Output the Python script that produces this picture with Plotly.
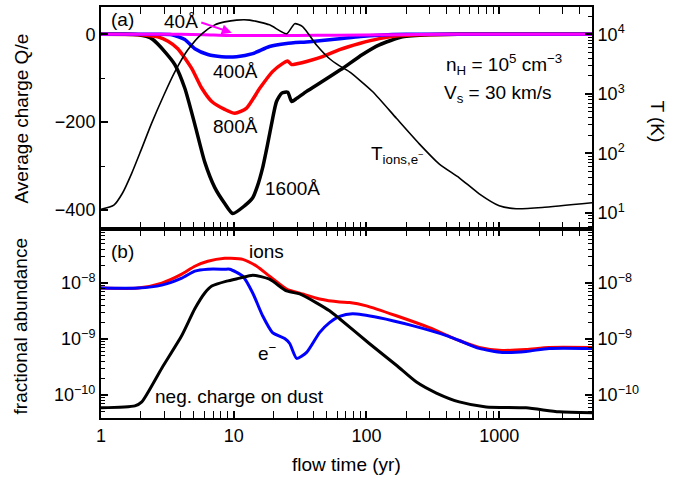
import numpy as np
import plotly.graph_objects as go

# ---------------- Panel (a): average grain charge Q/e ----------------
t_1600 = [1, 1.5, 1.9, 2.2, 2.46, 3.03, 3.6, 4.28, 5.09, 6.05, 7.2, 8.55, 9.83, 12.1, 13.9, 15.1, 16.5, 18.0,
          19.6, 21.0, 23.0, 25.5, 27.3, 29.8, 35.4, 46.7, 62.7, 66, 93.3, 125, 187, 298, 500, 5000]
q_1600 = [0, 0, -1, -5, -12, -40, -69, -123, -205, -291, -349, -385, -408, -390, -372, -345, -304, -250,
          -193, -153, -134, -132, -153, -146, -130, -107, -82, -78, -46, -24, -6, -1, 0, 0]

t_800 = [1, 2.0, 2.68, 3.2, 3.79, 4.83, 5.75, 6.83, 8.55, 10.2, 12.5, 15.7, 19.6, 23, 25.5, 27.3, 30, 35.4,
         46.7, 62.7, 88.5, 125, 178, 250, 500, 5000]
q_800 = [0, -1, -6, -16, -33, -78, -123, -153, -171, -180, -168, -123, -85, -68, -61, -69, -67, -62,
         -51, -35, -21, -10, -3, -1, 0, 0]

t_400 = [1, 2.5, 3.42, 4.28, 5.09, 6.38, 8.12, 10.5, 13.9, 18.6, 25, 37.3, 62.7, 90, 125, 200, 5000]
q_400 = [0, 0, -1, -12, -33, -46, -51, -51, -44, -28, -21, -17, -10, -5, -2, 0, 0]

t_40 = [1, 4, 6, 9, 15, 30, 60, 150, 400, 5000]
q_40 = [0, 0, -1, -3, -3, -3, -2, -1, 0, 0]

# Temperature of ions and electrons (K), right axis of panel (a)
t_T = [1, 1.25, 1.45, 1.7, 2.0, 2.4, 2.99, 3.6, 4.51, 5.75, 7.2, 8.55, 10.5, 13.2, 18.6, 25, 28.8,
       33, 42, 52.7, 62.7, 74.5, 111, 168, 250, 354, 500, 707, 1000, 1342, 2105, 5000]
logT = [1.06, 1.13, 1.33, 1.66, 2.05, 2.50, 2.99, 3.37, 3.74, 4.01, 4.16, 4.21, 4.24, 4.24, 4.16, 4.01, 4.18,
        4.13, 3.82, 3.59, 3.47, 3.37, 3.04, 2.59, 2.16, 1.82, 1.59, 1.32, 1.12, 1.07, 1.09, 1.17]
T_K = [10 ** v for v in logT]

# ---------------- Panel (b): fractional abundances ----------------
t_ions = [1, 1.9, 2.87, 4.06, 5.09, 6.38, 8.55, 9.33, 11.7, 14.9, 18.6, 25, 33, 44.3, 62.7, 74.5, 100, 168,
          298, 500, 707, 1054, 1596, 2378, 5000]
log_ions = [-8.094, -8.094, -8.005, -7.846, -7.705, -7.617, -7.564, -7.564, -7.582, -7.705, -7.882, -8.111,
            -8.199, -8.288, -8.341, -8.35, -8.411, -8.588, -8.800, -9.029, -9.153, -9.206, -9.188, -9.153, -9.153]
x_ions = [10 ** v for v in log_ions]

t_el = [1, 1.9, 2.87, 4.06, 5.09, 6.38, 8.55, 9.33, 11.7, 13.9, 16.5, 19.6, 24.2, 26.4, 29.8, 35.4, 44.3,
        52.7, 62.7, 78.5, 125, 222, 400, 500, 707, 1054, 1596, 2378, 5000]
log_el = [-8.094, -8.094, -8.041, -7.917, -7.793, -7.758, -7.758, -7.758, -7.882, -8.182, -8.588, -8.888,
          -8.994, -9.082, -9.347, -9.241, -8.888, -8.711, -8.60, -8.552, -8.623, -8.764, -8.941, -9.029,
          -9.170, -9.241, -9.223, -9.170, -9.170]
x_el = [10 ** v for v in log_el]

t_dust = [1, 1.8, 2.03, 2.87, 4.06, 5.09, 6.05, 6.83, 8.85, 11.1, 13.9, 18.6, 25, 31.4, 42, 52.7, 62.7,
          105, 168, 238, 336, 500, 798, 1596, 2826, 5000]
log_dust = [-10.229, -10.194, -10.123, -9.523, -8.941, -8.464, -8.182, -8.058, -7.970, -7.917, -7.864, -7.935,
            -8.146, -8.199, -8.358, -8.500, -8.641, -9.082, -9.470, -9.770, -9.965, -10.123, -10.212, -10.229,
            -10.300, -10.317]
x_dust = [10 ** v for v in log_dust]

# tick labels
xt_vals = [1, 10, 100, 1000]
xt_text = ["1", "10", "100", "1000"]
q_vals = [-400, -200, 0]
q_text = ["\u2212400", "\u2212200", "0"]
T_vals = [10, 100, 1000, 10000]
T_text = ["10<sup>1</sup>", "10<sup>2</sup>", "10<sup>3</sup>", "10<sup>4</sup>"]
ab_vals = [1e-10, 1e-9, 1e-8]
ab_text = ["10<sup>\u221210</sup>", "10<sup>\u22129</sup>", "10<sup>\u22128</sup>"]

FONT = "Liberation Sans, Arial, Helvetica, sans-serif"
TICKFONT = dict(family=FONT, size=18, color="black")
TXT = dict(family=FONT, size=19, color="black")

XMAX = 5000
x_range = [0, np.log10(XMAX)]
minor_x = [k * 10 ** e for e in range(0, 4) for k in range(2, 10) if k * 10 ** e < XMAX]
minor_T = [k * 10 ** e for e in range(0, 5) for k in range(2, 10)]
minor_ab = [k * 10.0 ** e for e in range(-11, -7) for k in range(2, 10)]

fig = go.Figure()

thick = 3.5
sm = 0.6
fig.add_trace(go.Scatter(x=t_1600, y=q_1600, xaxis="x2", yaxis="y", mode="lines",
                         line=dict(color="black", width=thick, shape="spline", smoothing=sm), showlegend=False))
fig.add_trace(go.Scatter(x=t_800, y=q_800, xaxis="x2", yaxis="y", mode="lines",
                         line=dict(color="#ff0000", width=thick, shape="spline", smoothing=sm), showlegend=False))
fig.add_trace(go.Scatter(x=t_400, y=q_400, xaxis="x2", yaxis="y", mode="lines",
                         line=dict(color="#0000ff", width=thick, shape="spline", smoothing=sm), showlegend=False))
fig.add_trace(go.Scatter(x=t_40, y=q_40, xaxis="x2", yaxis="y", mode="lines",
                         line=dict(color="#ff00ff", width=3, shape="spline", smoothing=sm), showlegend=False))
fig.add_trace(go.Scatter(x=t_T, y=T_K, xaxis="x2", yaxis="y3", mode="lines",
                         line=dict(color="black", width=1.6, shape="spline", smoothing=sm), showlegend=False))

fig.add_trace(go.Scatter(x=t_ions, y=x_ions, xaxis="x", yaxis="y2", mode="lines",
                         line=dict(color="#ff0000", width=3, shape="spline", smoothing=sm), showlegend=False))
fig.add_trace(go.Scatter(x=t_el, y=x_el, xaxis="x", yaxis="y2", mode="lines",
                         line=dict(color="#0000ff", width=3, shape="spline", smoothing=sm), showlegend=False))
fig.add_trace(go.Scatter(x=t_dust, y=x_dust, xaxis="x", yaxis="y4", mode="lines",
                         line=dict(color="black", width=3, shape="spline", smoothing=sm), showlegend=False))

axis_common = dict(showline=True, linecolor="black", linewidth=2, ticks="inside", ticklen=7, tickwidth=1.5,
                   tickcolor="black", showgrid=False, zeroline=False, tickfont=TICKFONT)

fig.update_layout(
    width=688, height=481,
    margin=dict(l=101, r=96, t=5, b=63),
    paper_bgcolor="white", plot_bgcolor="white",
    xaxis=dict(domain=[0, 1], anchor="y2", type="log", range=x_range, tickmode="array",
               tickvals=xt_vals, ticktext=xt_text, mirror="allticks",
               minor=dict(tickmode="array", tickvals=minor_x, ticks="inside", ticklen=4, tickwidth=1.2,
                          tickcolor="black", showgrid=False),
               **axis_common),
    xaxis2=dict(domain=[0, 1], anchor="y", type="log", range=x_range, matches="x", tickmode="array",
                tickvals=xt_vals, ticktext=xt_text, mirror="allticks", showticklabels=False,
                minor=dict(tickmode="array", tickvals=minor_x, ticks="inside", ticklen=4, tickwidth=1.2,
                           tickcolor="black", showgrid=False),
                **axis_common),
    yaxis=dict(domain=[0.46, 1], anchor="x2", range=[-443, 62], tickmode="array", tickvals=q_vals,
               ticktext=q_text,
               minor=dict(tickmode="array", tickvals=[-300, -100], ticks="inside", ticklen=4, tickwidth=1.2,
                          tickcolor="black", showgrid=False),
               **axis_common),
    yaxis3=dict(overlaying="y", side="right", anchor="x2", type="log", range=[0.73, 4.46], tickmode="array",
                tickvals=T_vals, ticktext=T_text,
                minor=dict(tickmode="array", tickvals=minor_T, ticks="inside", ticklen=4, tickwidth=1.2,
                           tickcolor="black", showgrid=False),
                **axis_common),
    yaxis2=dict(domain=[0, 0.46], anchor="x", type="log", range=[-10.41, -7.04], tickmode="array",
                tickvals=ab_vals, ticktext=ab_text,
                minor=dict(tickmode="array", tickvals=minor_ab, ticks="inside", ticklen=4, tickwidth=1.2,
                           tickcolor="black", showgrid=False),
                **axis_common),
    yaxis4=dict(overlaying="y2", side="right", anchor="x", type="log", range=[-10.41, -7.04], tickmode="array",
                tickvals=ab_vals, ticktext=ab_text,
                minor=dict(tickmode="array", tickvals=minor_ab, ticks="inside", ticklen=4, tickwidth=1.2,
                           tickcolor="black", showgrid=False),
                **axis_common),
)

L = np.log10
ann = []
def txt(text, x, y, xref="x2", yref="y", xanchor="center", yanchor="middle"):
    ann.append(dict(text=text, x=x, y=y, xref=xref, yref=yref, xanchor=xanchor, yanchor=yanchor,
                    showarrow=False, font=TXT))

# panel (a) labels
txt("(a)", L(1.44), 33)
txt("40\u00c5", L(4.0), 28)
txt("400\u00c5", L(10.35), -85)
txt("800\u00c5", L(10.35), -209)
txt("1600\u00c5", L(27.8), -351)
txt("T<sub>ions,e<sup>\u2212</sup></sub>", L(171), -275)
txt("n<sub>H</sub> = 10<sup>5</sup> cm<sup>\u22123</sup>", L(386), -69, xanchor="left")
txt("V<sub>s</sub> = 30 km/s", L(373), -137, xanchor="left")
# panel (b) labels
txt("(b)", L(1.44), -7.44, xref="x", yref="y2")
txt("ions", L(17.7), -7.44, xref="x", yref="y2")
txt("e<sup>\u2212</sup>", L(17.9), -9.24, xref="x", yref="y2")
txt("neg. charge on dust", L(11.1), -10.035, xref="x", yref="y2")

# axis titles
ann.append(dict(text="Average charge Q/e", x=(21 - 101) / 491, y=(418 - 117) / 413, xref="paper", yref="paper",
                textangle=-90, showarrow=False, font=TXT, xanchor="center", yanchor="middle"))
ann.append(dict(text="fractional abundance", x=(20 - 101) / 491, y=(418 - 326) / 413, xref="paper", yref="paper",
                textangle=-90, showarrow=False, font=TXT, xanchor="center", yanchor="middle"))
ann.append(dict(text="T (K)", x=(658 - 101) / 491, y=(418 - 120) / 413, xref="paper", yref="paper",
                textangle=90, showarrow=False, font=TXT, xanchor="center", yanchor="middle"))
ann.append(dict(text="flow time (yr)", x=(346 - 101) / 491, y=(418 - 465) / 413, xref="paper", yref="paper",
                showarrow=False, font=TXT, xanchor="center", yanchor="middle"))

# magenta arrow pointing from the 40 A label to its curve
ann.append(dict(text="", x=L(9.66), y=3.4, xref="x2", yref="y", ax=L(5.55), ay=28, axref="x2", ayref="y",
                showarrow=True, arrowhead=2, arrowsize=1, arrowwidth=2, arrowcolor="#ff00ff"))

fig.update_layout(annotations=ann)
fig.write_html("out.html")
